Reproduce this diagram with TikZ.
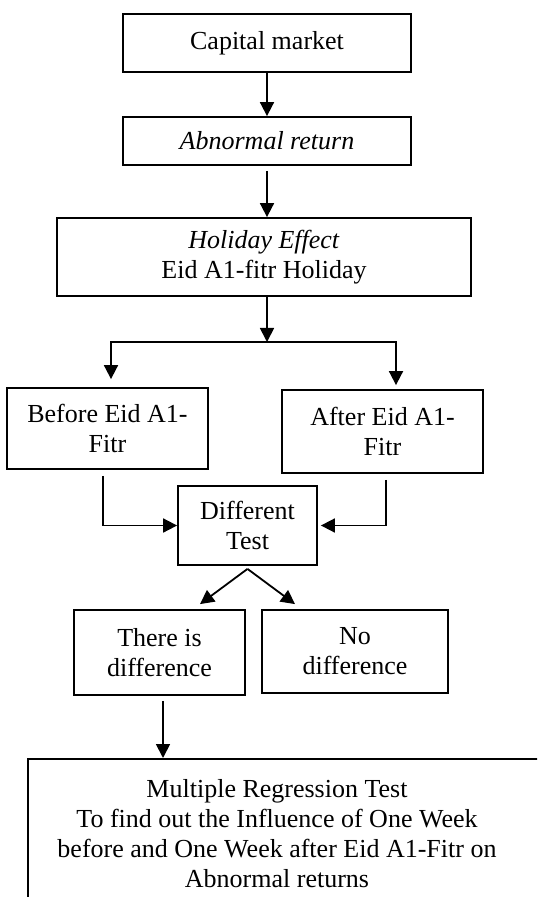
\documentclass[tikz,border=0pt]{standalone}
\usepackage{fontspec}
\setmainfont{Liberation Serif}
\usetikzlibrary{arrows.meta}
\begin{document}
\begin{tikzpicture}[x=0.5pt,y=-0.5pt, font=\fontsize{13}{15}\selectfont,
 box/.style={draw, line width=0.9pt, inner sep=0pt, align=center},
 arr/.style={line width=0.9pt, -{Triangle[length=7pt,width=7pt]}}]
\useasboundingbox (0,0) rectangle (537,897);
\clip (0,0) rectangle (537,897);
\node[box, minimum width=144pt, minimum height=29pt] (cap) at (267,43) {Capital market};
\node[box, minimum width=144pt, minimum height=24pt] (abn) at (267,141) {\textit{Abnormal return}};
\node[box, minimum width=207pt, minimum height=39pt] (hol) at (264,257) {\textit{Holiday Effect}\\Eid A1-fitr Holiday};
\node[box, minimum width=100.5pt, minimum height=40.5pt] (bef) at (107.5,428.5) {Before Eid A1-\\Fitr};
\node[box, minimum width=100.5pt, minimum height=41.5pt] (aft) at (382.5,431.5) {After Eid A1-\\Fitr};
\node[box, minimum width=69.5pt, minimum height=39.5pt] (dif) at (247.5,525.5) {Different\\Test};
\node[box, minimum width=85.5pt, minimum height=42.5pt] (yes) at (159.5,652.5) {There is\\difference};
\node[box, minimum width=93pt, minimum height=41.5pt] (no) at (355,651.5) {No\\difference};
\node[box, anchor=north west, minimum width=300pt, minimum height=100pt] (mr) at (27,758) {};
\node[align=center, inner sep=0pt] (mrt) at (277,834) {Multiple Regression Test\\To find out the Influence of One Week\\before and One Week after Eid A1-Fitr on\\Abnormal returns};
\coordinate (j) at (267,342);
\coordinate (apex) at ([yshift=-1.5pt]dif.south);
\draw[arr] (cap) -- (abn);
\draw[arr, shorten <=2.5pt] (abn.south) -- (abn.south |- hol.north);
\draw[arr] (hol.south -| j) -- (j);
\draw[arr, shorten >=4pt] (j) -| ([xshift=1.75pt]bef.north);
\draw[arr, shorten >=2pt] (j) -| ([xshift=6.75pt]aft.north);
\draw[arr, shorten <=3pt] ([xshift=-2.25pt]bef.south) |- (dif.west);
\draw[arr, shorten <=3pt, shorten >=1.5pt] ([xshift=1.75pt]aft.south) |- (dif.east);
\draw[arr] (apex) -- ([xshift=20.25pt,yshift=2.5pt]yes.north);
\draw[arr] (apex) -- ([xshift=-30pt,yshift=2.5pt]no.north);
\draw[arr, shorten <=2.5pt] ([xshift=1.75pt]yes.south) -- ([xshift=1.75pt]yes.south |- mr.north);
\end{tikzpicture}
\end{document}
